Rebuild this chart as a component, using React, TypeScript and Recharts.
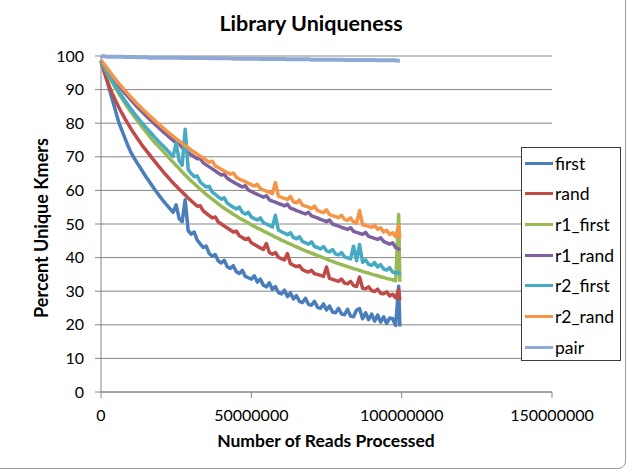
import { CartesianGrid, Line, LineChart, XAxis, YAxis } from "recharts";

// reads processed, in millions (one sample per million, last two are the tail spike)
const READS_M = [
  0, 1, 2, 3, 4, 5, 6, 7, 8, 9,
  10, 11, 12, 13, 14, 15, 16, 17, 18, 19,
  20, 21, 22, 23, 24, 25, 26, 27, 28, 29,
  30, 31, 32, 33, 34, 35, 36, 37, 38, 39,
  40, 41, 42, 43, 44, 45, 46, 47, 48, 49,
  50, 51, 52, 53, 54, 55, 56, 57, 58, 59,
  60, 61, 62, 63, 64, 65, 66, 67, 68, 69,
  70, 71, 72, 73, 74, 75, 76, 77, 78, 79,
  80, 81, 82, 83, 84, 85, 86, 87, 88, 89,
  90, 91, 92, 93, 94, 95, 96, 97, 98, 99, 99.4,
];

const FIRST = [
  98.5, 95.6, 92.6, 89.4, 86.3, 83.1, 80.0, 77.7, 75.5, 73.2,
  71.2, 69.7, 68.2, 66.8, 65.4, 64.0, 62.7, 61.4, 60.1, 58.9,
  57.7, 56.6, 55.5, 54.5, 53.5, 55.7, 51.6, 50.7, 57.2, 48.0,
  47.0, 47.6, 45.2, 44.1, 43.0, 43.4, 41.2, 40.4, 40.9, 39.0,
  38.4, 39.2, 37.3, 36.8, 37.6, 35.8, 35.3, 36.2, 34.4, 34.0,
  33.6, 34.6, 32.7, 33.6, 31.8, 31.3, 32.5, 30.5, 31.4, 29.6,
  29.2, 30.3, 28.4, 29.5, 27.7, 28.7, 27.0, 26.6, 27.9, 26.1,
  25.8, 27.0, 25.2, 24.9, 26.2, 24.4, 25.6, 23.8, 23.6, 24.9,
  23.2, 23.0, 24.6, 22.6, 22.4, 24.4, 24.8, 21.8, 23.6, 21.5,
  23.2, 21.1, 22.9, 20.8, 22.4, 20.4, 22.0, 21.8, 19.8, 31.5, 19.5,
];

const RAND = [
  98.5, 95.6, 92.8, 90.4, 88.3, 86.4, 84.6, 82.9, 81.3, 79.8,
  78.3, 76.9, 75.6, 74.3, 73.0, 71.9, 70.8, 69.6, 68.5, 67.4,
  66.3, 65.2, 64.2, 63.2, 62.2, 61.3, 60.4, 59.5, 58.6, 57.7,
  56.9, 56.1, 55.3, 55.4, 53.9, 53.2, 52.5, 51.8, 52.1, 50.6,
  50.0, 49.4, 48.8, 48.2, 47.6, 47.9, 46.5, 46.0, 45.4, 45.8,
  44.4, 43.9, 43.4, 42.9, 42.4, 44.2, 41.5, 41.0, 41.5, 40.1,
  39.7, 39.3, 41.2, 38.2, 37.7, 37.3, 37.6, 36.4, 36.0, 35.7,
  36.2, 35.2, 35.0, 34.7, 34.4, 37.2, 33.8, 33.5, 33.2, 32.9,
  33.6, 32.4, 32.2, 32.9, 31.7, 31.4, 34.2, 30.9, 30.7, 31.3,
  30.2, 29.9, 30.6, 29.4, 29.2, 29.8, 28.6, 29.1, 28.0, 30.5, 27.3,
];

const R1_FIRST = [
  98.5, 96.7, 95.0, 93.4, 91.8, 90.2, 88.7, 87.3, 85.9, 84.6,
  83.3, 82.1, 80.9, 79.7, 78.5, 77.4, 76.3, 75.2, 74.1, 73.2,
  72.3, 71.3, 70.3, 69.3, 68.4, 67.4, 66.5, 65.5, 64.6, 63.7,
  62.8, 62.0, 61.2, 60.4, 59.6, 58.8, 58.1, 57.4, 56.7, 56.0,
  55.3, 54.7, 54.1, 53.5, 52.9, 52.4, 51.8, 51.3, 50.8, 50.3,
  49.8, 49.3, 48.8, 48.4, 47.9, 47.5, 47.0, 46.6, 46.1, 45.7,
  45.2, 44.8, 44.4, 44.0, 43.6, 43.2, 42.8, 42.4, 42.0, 41.7,
  41.3, 41.0, 40.6, 40.3, 39.9, 39.6, 39.2, 38.9, 38.5, 38.2,
  37.9, 37.6, 37.3, 37.0, 36.7, 36.5, 36.2, 35.9, 35.6, 35.4,
  35.1, 34.8, 34.6, 34.3, 34.1, 33.8, 33.6, 33.4, 33.1, 52.8, 32.8,
];

const R1_RAND = [
  98.5, 97.2, 95.9, 94.6, 93.4, 92.2, 91.1, 90.0, 88.9, 87.9,
  86.9, 85.9, 84.9, 84.0, 83.1, 82.2, 81.3, 80.5, 79.6, 78.8,
  78.0, 77.2, 76.4, 75.6, 74.9, 74.1, 74.0, 72.7, 72.0, 71.3,
  70.6, 70.0, 69.4, 69.5, 68.2, 67.6, 67.0, 66.4, 65.8, 65.2,
  64.6, 64.8, 63.6, 63.0, 62.5, 62.0, 61.5, 61.0, 61.4, 60.1,
  59.7, 59.2, 58.8, 58.4, 58.0, 58.4, 57.2, 56.8, 56.5, 56.1,
  55.8, 55.4, 55.9, 54.7, 54.4, 54.0, 53.7, 53.3, 53.0, 53.5,
  52.4, 52.1, 51.8, 51.4, 51.1, 50.7, 51.2, 50.0, 49.7, 49.4,
  49.0, 48.7, 48.4, 48.9, 47.8, 47.5, 47.2, 46.9, 47.5, 46.3,
  46.0, 45.7, 45.4, 45.9, 44.8, 44.4, 44.0, 44.4, 43.0, 42.6, 42.3,
];

const R2_FIRST = [
  98.5, 96.9, 95.3, 93.8, 92.3, 90.8, 89.4, 88.0, 86.7, 85.4,
  84.2, 83.0, 81.9, 80.8, 79.7, 78.7, 77.7, 76.7, 75.7, 74.7,
  73.8, 72.9, 72.0, 71.0, 70.1, 74.2, 68.8, 67.5, 78.2, 66.2,
  65.0, 64.1, 64.3, 62.5, 61.7, 61.0, 61.2, 59.5, 58.8, 58.1,
  57.4, 57.8, 56.2, 55.6, 55.0, 54.5, 55.0, 53.5, 53.0, 53.5,
  52.1, 51.6, 51.2, 51.8, 50.4, 50.0, 49.6, 49.1, 52.6, 48.2,
  47.7, 47.3, 46.8, 47.4, 46.0, 45.6, 46.2, 44.8, 44.4, 44.0,
  44.7, 43.3, 43.0, 42.6, 43.3, 42.0, 41.7, 42.4, 41.1, 40.8,
  41.5, 40.2, 39.9, 39.6, 43.4, 39.1, 43.9, 38.6, 39.3, 38.0,
  37.7, 38.5, 37.2, 37.9, 36.6, 36.3, 37.0, 35.7, 35.4, 35.6, 34.9,
];

const R2_RAND = [
  98.8, 97.6, 96.4, 95.2, 94.0, 92.9, 91.8, 90.7, 89.7, 88.7,
  87.7, 86.8, 85.8, 84.9, 84.0, 83.2, 82.3, 81.5, 80.7, 79.9,
  79.1, 78.3, 77.6, 76.8, 76.1, 75.4, 74.7, 74.0, 73.3, 72.7,
  72.0, 71.4, 70.8, 70.2, 69.6, 69.0, 68.4, 68.7, 67.3, 66.8,
  66.3, 65.8, 65.3, 64.8, 65.2, 63.9, 63.4, 63.0, 62.6, 62.1,
  61.7, 61.3, 61.8, 60.5, 60.1, 59.8, 59.4, 59.0, 62.3, 58.3,
  57.9, 57.6, 57.3, 58.2, 56.6, 56.3, 57.1, 55.6, 55.3, 55.0,
  54.6, 55.3, 54.0, 53.7, 53.4, 54.2, 52.8, 52.5, 52.2, 51.9,
  52.6, 51.4, 51.1, 51.8, 50.6, 50.3, 54.0, 49.8, 49.6, 49.3,
  49.0, 49.7, 48.4, 48.9, 47.6, 48.1, 46.9, 47.4, 46.2, 49.5, 45.8,
];

const PAIR = [
  99.9, 99.9, 99.8, 99.8, 99.8, 99.8, 99.8, 99.8, 99.7, 99.7,
  99.7, 99.7, 99.6, 99.6, 99.6, 99.6, 99.5, 99.5, 99.5, 99.5,
  99.5, 99.5, 99.5, 99.5, 99.5, 99.5, 99.5, 99.4, 99.4, 99.4,
  99.4, 99.4, 99.4, 99.4, 99.4, 99.4, 99.3, 99.3, 99.3, 99.3,
  99.3, 99.3, 99.3, 99.3, 99.2, 99.2, 99.2, 99.2, 99.2, 99.2,
  99.2, 99.2, 99.2, 99.1, 99.1, 99.1, 99.1, 99.1, 99.1, 99.1,
  99.1, 99.1, 99.0, 99.0, 99.0, 99.0, 99.0, 99.0, 99.0, 99.0,
  98.9, 98.9, 98.9, 98.9, 98.9, 98.9, 98.9, 98.9, 98.9, 98.9,
  98.9, 98.8, 98.8, 98.8, 98.8, 98.8, 98.8, 98.8, 98.8, 98.8,
  98.8, 98.8, 98.7, 98.7, 98.7, 98.7, 98.7, 98.7, 98.7, 98.6, 98.6,
];

const SERIES = [
  { key: "first", color: "#4A7EBB", values: FIRST },
  { key: "rand", color: "#BE4B48", values: RAND },
  { key: "r1_first", color: "#98B954", values: R1_FIRST },
  { key: "r1_rand", color: "#7D60A0", values: R1_RAND },
  { key: "r2_first", color: "#46AAC5", values: R2_FIRST },
  { key: "r2_rand", color: "#F69546", values: R2_RAND },
  { key: "pair", color: "#8FA9D6", values: PAIR },
];

const X_TICKS = [0, 50000000, 100000000, 150000000];
const Y_TICKS = [0, 10, 20, 30, 40, 50, 60, 70, 80, 90, 100];

const FONT = "Lato, 'Open Sans', sans-serif";
const AXIS = "#868686";

const data = READS_M.map((m, i) => {
  const row: Record<string, number> = { reads: m * 1000000 };
  SERIES.forEach((s) => {
    row[s.key] = s.values[i];
  });
  return row;
});

function LegendBox() {
  return (
    <div
      style={{
        position: "absolute",
        left: 521,
        top: 147,
        width: 100,
        height: 214,
        border: "1px solid #3a3a3a",
        background: "#fff",
        boxSizing: "border-box",
        fontFamily: FONT,
        fontSize: 17.5,
        color: "#000",
      }}
    >
      {SERIES.map((s, i) => (
        <div
          key={s.key}
          style={{
            position: "absolute",
            left: 3,
            top: 15 + i * 30.7 - 11,
            height: 22,
            display: "flex",
            alignItems: "center",
          }}
        >
          <span style={{ display: "inline-block", width: 28, height: 3, background: s.color }} />
          <span style={{ marginLeft: 2 }}>{s.key}</span>
        </div>
      ))}
    </div>
  );
}

export default function App() {
  const tick = { fill: "#000", fontSize: 16, fontFamily: FONT };
  return (
    <div
      style={{
        position: "absolute",
        left: 0,
        top: 0,
        width: 630,
        height: 473,
        background: "#fff",
        overflow: "hidden",
      }}
    >
      <LineChart width={630} height={473} data={data} margin={{ top: 56, right: 78, bottom: 0, left: 0 }}>
        <CartesianGrid stroke={AXIS} vertical={false} />
        <XAxis
          dataKey="reads"
          type="number"
          domain={[0, 150000000]}
          ticks={X_TICKS}
          interval={0}
          height={81}
          tickSize={6}
          tickMargin={12}
          stroke={AXIS}
          tick={tick}
        />
        <YAxis
          type="number"
          domain={[0, 100]}
          ticks={Y_TICKS}
          interval={0}
          width={101}
          tickSize={6}
          tickMargin={11}
          stroke={AXIS}
          tick={tick}
        />
        {SERIES.map((s) => (
          <Line
            key={s.key}
            dataKey={s.key}
            type="linear"
            stroke={s.color}
            strokeWidth={s.key === "pair" ? 4 : 3.5}
            strokeLinejoin="round"
            dot={false}
            activeDot={false}
            isAnimationActive={false}
          />
        ))}
      </LineChart>
      <svg
        width={630}
        height={473}
        style={{ position: "absolute", left: 0, top: 0, pointerEvents: "none" }}
      >
        <text x={311} y={23} textAnchor="middle" dominantBaseline="central" fontFamily={FONT} fontWeight="bold" fontSize={21.5}>
          Library Uniqueness
        </text>
        <text x={326} y={440} textAnchor="middle" dominantBaseline="central" fontFamily={FONT} fontWeight="bold" fontSize={17.5}>
          Number of Reads Processed
        </text>
        <text
          transform="translate(41,228) rotate(-90)"
          textAnchor="middle"
          dominantBaseline="central"
          fontFamily={FONT}
          fontWeight="bold"
          fontSize={18}
        >
          Percent Unique Kmers
        </text>
      </svg>
      <LegendBox />
      <div
        style={{
          position: "absolute",
          left: -10,
          top: -10,
          width: 636,
          height: 479,
          border: "1px solid #9a9a9a",
          borderRadius: 8,
          boxSizing: "border-box",
          pointerEvents: "none",
        }}
      />
    </div>
  );
}
